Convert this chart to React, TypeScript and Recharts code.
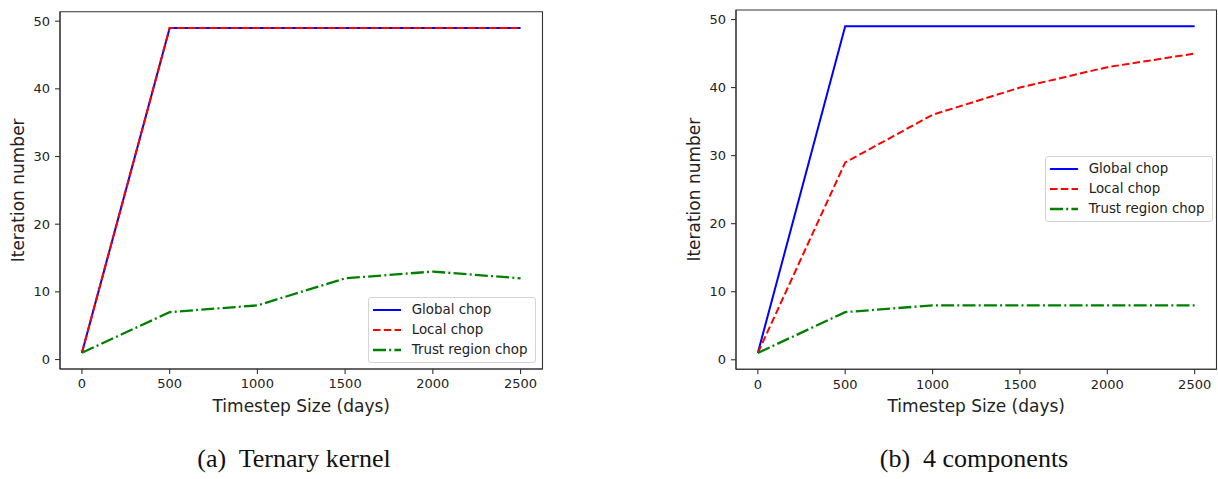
import { LineChart, Line, XAxis, YAxis, Legend, Label, ReferenceArea } from "recharts";

const timesteps = [0, 500, 1000, 1500, 2000, 2500];
const yTicks = [0, 10, 20, 30, 40, 50];

// (a) ternary kernel
const ternaryGlobal = [1, 49, 49, 49, 49, 49];
const ternaryLocal = [1, 49, 49, 49, 49, 49];
const ternaryTrust = [1, 7, 8, 12, 13, 12];

// (b) 4 components
const compGlobal = [1, 49, 49, 49, 49, 49];
const compLocal = [1, 29, 36, 40, 43, 45];
const compTrust = [1, 7, 8, 8, 8, 8];

const X_DOMAIN: [number, number] = [-125, 2625];
const Y_DOMAIN: [number, number] = [-1.4, 51.4];

const FONT = "'DejaVu Sans', sans-serif";
const INK = "#222";

const SERIES = [
  { key: "global", name: "Global chop", color: "#0000ff", width: 2, dash: undefined as string | undefined },
  { key: "local", name: "Local chop", color: "#ff0000", width: 2, dash: "7.5 3.25" },
  { key: "trust", name: "Trust region chop", color: "#008000", width: 2.3, dash: "13 3.2 2 3.2" },
];

const toRows = (g: number[], l: number[], tr: number[]) =>
  timesteps.map((t, i) => ({ t, global: g[i], local: l[i], trust: tr[i] }));

const ternaryRows = toRows(ternaryGlobal, ternaryLocal, ternaryTrust);
const compRows = toRows(compGlobal, compLocal, compTrust);

function ChopLegend() {
  return (
    <div
      style={{
        width: 168,
        height: 66,
        boxSizing: "border-box",
        border: "1px solid #d4d4d4",
        borderRadius: 3,
        background: "rgba(255,255,255,0.85)",
        padding: "1.5px 0 0 3.7px",
        fontFamily: FONT,
        fontSize: 13.4,
        color: INK,
      }}
    >
      {SERIES.map((s) => (
        <div key={s.key} style={{ display: "flex", alignItems: "center", height: 20 }}>
          <svg width={28} height={20} style={{ display: "block" }}>
            <line x1={0} x2={28} y1={10} y2={10} stroke={s.color} strokeWidth={s.width} strokeDasharray={s.dash} />
          </svg>
          <span style={{ marginLeft: 11, whiteSpace: "nowrap" }}>{s.name}</span>
        </div>
      ))}
    </div>
  );
}

interface PanelProps {
  rows: typeof ternaryRows;
  width: number;
  margin: { top: number; right: number; bottom: number; left: number };
  legendPos: { left: number; top: number };
}

function Panel({ rows, width, margin, legendPos }: PanelProps) {
  const tickStyle = { fontSize: 13, fill: INK, fontFamily: FONT };
  const frame = { stroke: "#333", strokeWidth: 1.1 };
  return (
    <LineChart width={width} height={420} data={rows} margin={margin}>
      <XAxis
        dataKey="t"
        type="number"
        domain={X_DOMAIN}
        ticks={timesteps}
        tick={tickStyle}
        tickSize={5}
        tickMargin={5}
        tickLine={frame}
        axisLine={frame}
        height={45}
      >
        <Label
          value="Timestep Size (days)"
          position="insideBottom"
          offset={2.5}
          style={{ fontSize: 17, fill: INK, fontFamily: FONT }}
        />
      </XAxis>
      <YAxis
        type="number"
        domain={Y_DOMAIN}
        ticks={yTicks}
        tick={tickStyle}
        tickSize={5}
        tickMargin={5}
        tickLine={frame}
        axisLine={frame}
        width={60}
      >
        <Label
          value="Iteration number"
          angle={-90}
          position="insideLeft"
          offset={18}
          style={{ fontSize: 17, fill: INK, fontFamily: FONT, textAnchor: "middle" }}
        />
      </YAxis>
      {/* axes frame around the plot area */}
      <ReferenceArea
        x1={X_DOMAIN[0]}
        x2={X_DOMAIN[1]}
        y1={Y_DOMAIN[0]}
        y2={Y_DOMAIN[1]}
        fill="none"
        fillOpacity={0}
        stroke="#333"
        strokeWidth={1.1}
        ifOverflow="visible"
      />
      {SERIES.map((s) => (
        <Line
          key={s.key}
          dataKey={s.key}
          name={s.name}
          type="linear"
          stroke={s.color}
          strokeWidth={s.width}
          strokeDasharray={s.dash}
          dot={false}
          isAnimationActive={false}
        />
      ))}
      <Legend
        layout="vertical"
        align="center"
        verticalAlign="middle"
        content={() => <ChopLegend />}
        wrapperStyle={{ left: legendPos.left, top: legendPos.top, width: 168, height: 66 }}
      />
    </LineChart>
  );
}

const captionStyle = {
  position: "absolute" as const,
  top: 444,
  width: 300,
  textAlign: "center" as const,
  fontFamily: "'Liberation Serif', 'Times New Roman', serif",
  fontSize: 26,
  lineHeight: "30px",
  color: "#111",
  whiteSpace: "pre" as const,
};

export default function App() {
  return (
    <div style={{ position: "absolute", left: 0, top: 0, width: 1218, height: 479, background: "#fff", overflow: "hidden" }}>
      <div style={{ position: "absolute", left: 0, top: 0 }}>
        <Panel rows={ternaryRows} width={560} margin={{ top: 11.7, right: 17.5, bottom: 6, left: 0 }} legendPos={{ left: 368, top: 297 }} />
      </div>
      <div style={{ position: "absolute", left: 676, top: 0 }}>
        <Panel rows={compRows} width={542} margin={{ top: 10, right: 1.5, bottom: 5.7, left: 0 }} legendPos={{ left: 369, top: 156 }} />
      </div>
      <div style={{ ...captionStyle, left: 144 }}>{"(a)  Ternary kernel"}</div>
      <div style={{ ...captionStyle, left: 824 }}>{"(b)  4 components"}</div>
    </div>
  );
}
